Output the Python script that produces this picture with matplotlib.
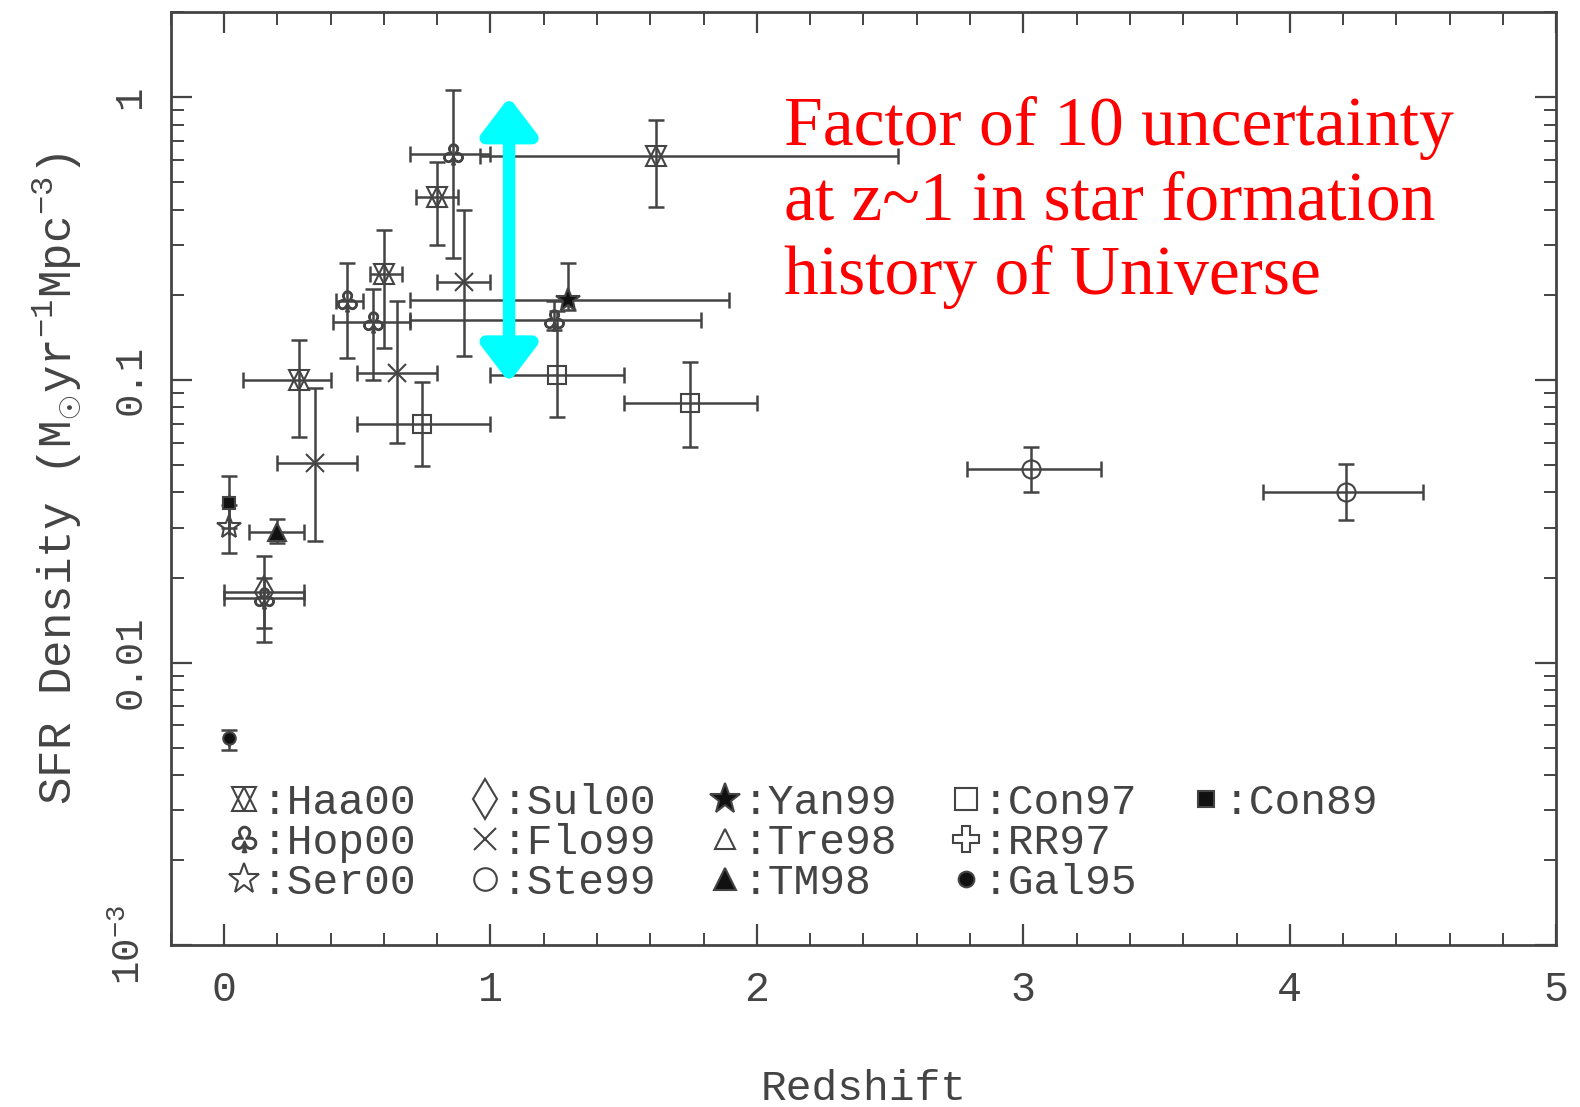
import matplotlib
matplotlib.use("Agg")
import matplotlib.pyplot as plt
import numpy as np
from matplotlib.lines import Line2D
from matplotlib.path import Path
from matplotlib.textpath import TextPath
from matplotlib.font_manager import FontProperties
from matplotlib.ticker import LogLocator, MultipleLocator, NullFormatter

# data: z, SFR density, z range, SFR range
haa_z = [0.28, 0.60, 0.80, 1.62]
haa_sfr = [0.100, 0.238, 0.445, 0.62]
haa_zlo = [0.07, 0.55, 0.72, 0.96]
haa_zhi = [0.40, 0.67, 0.88, 2.53]
haa_lo = [0.063, 0.13, 0.30, 0.41]
haa_hi = [0.139, 0.34, 0.59, 0.83]

hop_z = [0.15, 0.46, 0.56, 0.86, 1.24]
hop_sfr = [0.0170, 0.19, 0.16, 0.63, 0.163]
hop_zlo = [0.0, 0.42, 0.41, 0.70, 0.70]
hop_zhi = [0.30, 0.52, 0.70, 1.00, 1.79]
hop_lo = [0.0133, 0.12, 0.10, 0.27, 0.15]
hop_hi = [0.0200, 0.26, 0.21, 1.06, 0.19]

ser_z = [0.02]
ser_sfr = [0.0301]
ser_zlo = [0.02]
ser_zhi = [0.02]
ser_lo = [0.0244]
ser_hi = [0.036]

sul_z = [0.15]
sul_sfr = [0.0178]
sul_zlo = [0.0]
sul_zhi = [0.30]
sul_lo = [0.0118]
sul_hi = [0.0239]

flo_z = [0.34, 0.65, 0.90]
flo_sfr = [0.051, 0.106, 0.223]
flo_zlo = [0.20, 0.50, 0.80]
flo_zhi = [0.50, 0.80, 1.00]
flo_lo = [0.027, 0.060, 0.122]
flo_hi = [0.094, 0.19, 0.40]

ste_z = [3.03, 4.21]
ste_sfr = [0.0484, 0.040]
ste_zlo = [2.79, 3.90]
ste_zhi = [3.29, 4.50]
ste_lo = [0.040, 0.032]
ste_hi = [0.058, 0.0503]

yan_z = [1.29]
yan_sfr = [0.192]
yan_zlo = [0.70]
yan_zhi = [1.895]
yan_lo = [0.177]
yan_hi = [0.26]

tm_z = [0.20]
tm_sfr = [0.0289]
tm_zlo = [0.095]
tm_zhi = [0.30]
tm_lo = [0.0265]
tm_hi = [0.0322]

con97_z = [0.745, 1.25, 1.75]
con97_sfr = [0.070, 0.104, 0.083]
con97_zlo = [0.50, 1.00, 1.50]
con97_zhi = [1.00, 1.50, 2.00]
con97_lo = [0.0496, 0.074, 0.058]
con97_hi = [0.098, 0.176, 0.116]

con89_z = [0.02]
con89_sfr = [0.0366]
con89_zlo = [0.02]
con89_zhi = [0.02]
con89_lo = [0.030]
con89_hi = [0.0457]

gal_z = [0.02]
gal_sfr = [0.0054]
gal_zlo = [0.02]
gal_zhi = [0.02]
gal_lo = [0.0049]
gal_hi = [0.0058]

legend_names = ["Haa00", "Hop00", "Ser00", "Sul00", "Flo99", "Ste99",
                "Yan99", "Tre98", "TM98", "Con97", "RR97", "Gal95", "Con89"]

y_ticks = [1e-3, 1e-2, 0.1, 1]
y_ticklabels = [r"$10^{-3}$", "0.01", "0.1", "1"]
x_ticks = [0, 1, 2, 3, 4, 5]

annotation = "Factor of 10 uncertainty\nat z~1 in star formation\nhistory of Universe"
arrow_z = 1.07
arrow_lo, arrow_hi = 0.098, 1.0

# styling ########################################
mono = "Liberation Mono"
grey = "#444444"
plt.rcParams["mathtext.fontset"] = "custom"
plt.rcParams["mathtext.rm"] = mono
plt.rcParams["mathtext.it"] = mono
plt.rcParams["mathtext.bf"] = mono

# club suit marker (Hop00) built from a DejaVu glyph
club = TextPath((0, 0), "\u2667", size=1, prop=FontProperties(family="DejaVu Sans"))
ext = club.get_extents()
club = Path(club.vertices - [(ext.x0 + ext.x1) / 2, (ext.y0 + ext.y1) / 2], club.codes)

styles = {
    "Haa00a": dict(marker="^", mfc="none", ms=14),
    "Haa00b": dict(marker="v", mfc="none", ms=14),
    "Hop00": dict(marker=club, mfc="none", ms=18),
    "Ser00": dict(marker="*", mfc="none", ms=18),
    "Sul00": dict(marker="d", mfc="none", ms=16),
    "Flo99": dict(marker="x", mfc="none", ms=13),
    "Ste99": dict(marker="o", mfc="none", ms=13),
    "Yan99": dict(marker="*", mfc="#111111", ms=18),
    "Tre98": dict(marker="^", mfc="none", ms=12),
    "TM98": dict(marker="^", mfc="#111111", ms=13),
    "Con97": dict(marker="s", mfc="none", ms=13),
    "RR97": dict(marker="P", mfc="none", ms=15),
    "Con89": dict(marker="s", mfc="#111111", ms=9),
    "Gal95": dict(marker="o", mfc="#111111", ms=9),
}


def draw(ax, z, sfr, zlo, zhi, lo, hi, *keys):
    z = np.array(z)
    sfr = np.array(sfr)
    xerr = [z - np.array(zlo), np.array(zhi) - z]
    yerr = [sfr - np.array(lo), np.array(hi) - sfr]
    ax.errorbar(z, sfr, xerr=xerr, yerr=yerr, fmt="none", ecolor=grey,
                elinewidth=1.8, capsize=6, capthick=1.8, zorder=2)
    for k in keys:
        ax.plot(z, sfr, linestyle="none", mec=grey, mew=1.5, zorder=3, **styles[k])


fig = plt.figure(figsize=(15.8, 11.07), dpi=100)
fig.patch.set_facecolor("white")
ax = fig.add_axes([0.108, 0.146, 0.877, 0.843])
ax.set_yscale("log")
ax.set_xlim(-0.2, 5)
ax.set_ylim(1e-3, 2)

draw(ax, haa_z, haa_sfr, haa_zlo, haa_zhi, haa_lo, haa_hi, "Haa00a", "Haa00b")
draw(ax, hop_z, hop_sfr, hop_zlo, hop_zhi, hop_lo, hop_hi, "Hop00")
draw(ax, ser_z, ser_sfr, ser_zlo, ser_zhi, ser_lo, ser_hi, "Ser00")
draw(ax, sul_z, sul_sfr, sul_zlo, sul_zhi, sul_lo, sul_hi, "Sul00")
draw(ax, flo_z, flo_sfr, flo_zlo, flo_zhi, flo_lo, flo_hi, "Flo99")
draw(ax, ste_z, ste_sfr, ste_zlo, ste_zhi, ste_lo, ste_hi, "Ste99")
draw(ax, yan_z, yan_sfr, yan_zlo, yan_zhi, yan_lo, yan_hi, "Yan99")
draw(ax, tm_z, tm_sfr, tm_zlo, tm_zhi, tm_lo, tm_hi, "TM98")
draw(ax, con97_z, con97_sfr, con97_zlo, con97_zhi, con97_lo, con97_hi, "Con97")
draw(ax, con89_z, con89_sfr, con89_zlo, con89_zhi, con89_lo, con89_hi, "Con89")
draw(ax, gal_z, gal_sfr, gal_zlo, gal_zhi, gal_lo, gal_hi, "Gal95")

# cyan double arrow
ax.annotate("", xy=(arrow_z, arrow_hi), xytext=(arrow_z, arrow_lo),
            arrowprops=dict(arrowstyle="<|-|>,head_width=0.42,head_length=0.55",
                            mutation_scale=40, lw=9, color="#00FFFF",
                            shrinkA=0, shrinkB=0), zorder=4)

ax.text(0.443, 0.91, annotation, transform=ax.transAxes, color="red",
        fontsize=50, family="Liberation Serif", va="top", ha="left", linespacing=1.22)

# legend ##########################################
leg_scale = 1.25
handles = []
for name in legend_names:
    if name == "Haa00":
        h = tuple(Line2D([], [], linestyle="none", mec=grey, mew=1.5,
                         **dict(styles[k], ms=styles[k]["ms"] * leg_scale))
                  for k in ("Haa00a", "Haa00b"))
    else:
        h = Line2D([], [], linestyle="none", mec=grey, mew=1.5,
                   **dict(styles[name], ms=styles[name]["ms"] * leg_scale))
    handles.append(h)
labels = [":" + n for n in legend_names]
blank = Line2D([], [], linestyle="none")
handles += [blank, blank]
labels += ["", ""]
leg = ax.legend(handles, labels, ncol=5, loc="upper left",
                bbox_to_anchor=(0.025, 0.197), frameon=False, borderpad=0,
                prop=dict(family=mono, size=31), handlelength=0.8,
                handletextpad=0.0, columnspacing=1.2, labelspacing=0.0)
for t in leg.get_texts():
    t.set_color(grey)

# axes ############################################
for s in ax.spines.values():
    s.set_color(grey)
    s.set_linewidth(2)
ax.xaxis.set_major_locator(MultipleLocator(1))
ax.xaxis.set_minor_locator(MultipleLocator(0.2))
ax.yaxis.set_minor_locator(LogLocator(base=10, subs=np.arange(2, 10)))
ax.yaxis.set_minor_formatter(NullFormatter())
ax.tick_params(which="both", direction="in", top=True, right=True, color=grey)
ax.tick_params(which="major", length=15, width=1.6)
ax.tick_params(which="minor", length=9, width=1.4)
ax.set_xticks(x_ticks)
ax.set_xticklabels([str(v) for v in x_ticks], family=mono, fontsize=30, color=grey)
ax.set_yticks(y_ticks)
ax.set_yticklabels(y_ticklabels, family=mono, fontsize=28, color=grey,
                   rotation=90, va="center")
ax.tick_params(axis="x", pad=18)
ax.tick_params(axis="y", pad=16)

ax.set_xlabel("Redshift", family=mono, fontsize=31, color=grey, labelpad=42)
ax.set_ylabel(r"SFR Density (M$_{\odot}$yr$^{-1}$Mpc$^{-3}$)", family=mono,
              fontsize=33, color=grey, labelpad=20)

plt.savefig("out.png", dpi=100)
